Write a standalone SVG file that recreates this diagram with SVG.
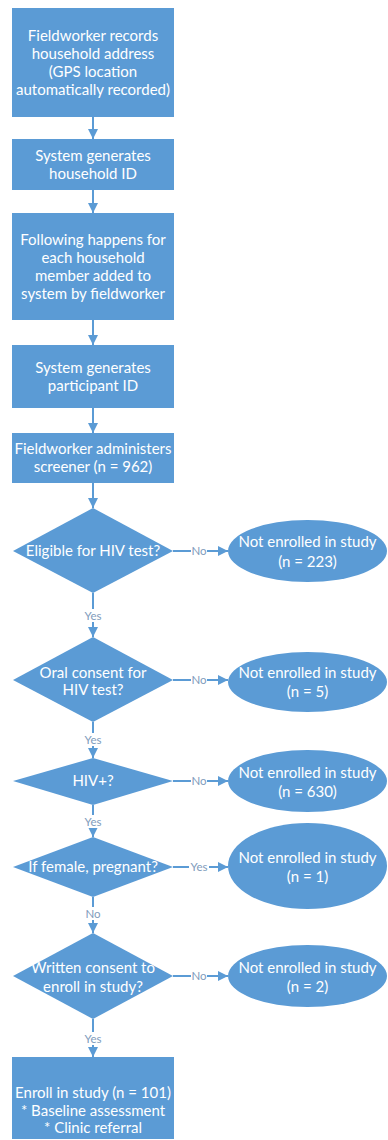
<svg xmlns="http://www.w3.org/2000/svg" width="388" height="1140" viewBox="0 0 388 1140">
<style>
.n{fill:#5b9bd5}
.t{font-family:Lato,"Open Sans",sans-serif;font-size:15px;fill:#fff;text-anchor:middle}
.c{stroke:#5b9bd5;stroke-width:2;fill:none}
.l{font-family:Lato,"Open Sans",sans-serif;font-size:11.5px;fill:#7f9cbc;text-anchor:middle}
.lb{fill:#fff}
</style>
<defs>
<marker id="ah" viewBox="0 0 10 10" refX="10" refY="5" markerWidth="10" markerHeight="10" orient="auto" markerUnits="userSpaceOnUse">
<path d="M0,0 L10,5 L0,10 Z" fill="#5b9bd5"/>
</marker>
</defs>
<rect width="388" height="1140" fill="#fff"/>
<g id="connectors">
<line class="c" x1="93" y1="117" x2="93" y2="139" marker-end="url(#ah)"/>
<line class="c" x1="93" y1="190" x2="93" y2="213" marker-end="url(#ah)"/>
<line class="c" x1="93" y1="320" x2="93" y2="345" marker-end="url(#ah)"/>
<line class="c" x1="93" y1="408" x2="93" y2="433" marker-end="url(#ah)"/>
<line class="c" x1="93" y1="483" x2="93" y2="508" marker-end="url(#ah)"/>
<line class="c" x1="93" y1="593" x2="93" y2="637" marker-end="url(#ah)"/>
<line class="c" x1="93" y1="722" x2="93" y2="758" marker-end="url(#ah)"/>
<line class="c" x1="93" y1="805" x2="93" y2="837" marker-end="url(#ah)"/>
<line class="c" x1="93" y1="897" x2="93" y2="933" marker-end="url(#ah)"/>
<line class="c" x1="93" y1="1019" x2="93" y2="1057" marker-end="url(#ah)"/>
<line class="c" x1="173" y1="551" x2="228" y2="551" marker-end="url(#ah)"/>
<line class="c" x1="173" y1="680" x2="228" y2="680" marker-end="url(#ah)"/>
<line class="c" x1="173" y1="781" x2="228" y2="781" marker-end="url(#ah)"/>
<line class="c" x1="173" y1="867" x2="228" y2="867" marker-end="url(#ah)"/>
<line class="c" x1="173" y1="976" x2="228" y2="976" marker-end="url(#ah)"/>
<rect class="lb" x="85" y="609" width="17" height="13"/>
<text class="l" x="93" y="620">Yes</text>
<rect class="lb" x="85" y="733" width="17" height="13"/>
<text class="l" x="93" y="744">Yes</text>
<rect class="lb" x="85" y="815" width="17" height="13"/>
<text class="l" x="93" y="826">Yes</text>
<rect class="lb" x="85" y="907" width="17" height="13"/>
<text class="l" x="93" y="918">No</text>
<rect class="lb" x="85" y="1032" width="17" height="13"/>
<text class="l" x="93" y="1043">Yes</text>
<rect class="lb" x="191" y="545" width="16" height="12"/>
<text class="l" x="199" y="555">No</text>
<rect class="lb" x="191" y="674" width="16" height="12"/>
<text class="l" x="199" y="684">No</text>
<rect class="lb" x="191" y="775" width="16" height="12"/>
<text class="l" x="199" y="785">No</text>
<rect class="lb" x="189" y="861" width="20" height="12"/>
<text class="l" x="199" y="871">Yes</text>
<rect class="lb" x="191" y="970" width="16" height="12"/>
<text class="l" x="199" y="980">No</text>
</g>
<g id="box1">
<rect class="n" x="12" y="8" width="162" height="109"/>
<text class="t" x="93" y="41">Fieldworker records</text>
<text class="t" x="93" y="59">household address</text>
<text class="t" x="93" y="77">(GPS location</text>
<text class="t" x="93" y="95">automatically recorded)</text>
</g>
<g id="box2">
<rect class="n" x="12" y="139" width="162" height="51"/>
<text class="t" x="93" y="161">System generates</text>
<text class="t" x="93" y="179">household ID</text>
</g>
<g id="box3">
<rect class="n" x="12" y="213" width="162" height="107"/>
<text class="t" x="93" y="245">Following happens for</text>
<text class="t" x="93" y="263">each household</text>
<text class="t" x="93" y="281">member added to</text>
<text class="t" x="93" y="299">system by fieldworker</text>
</g>
<g id="box4">
<rect class="n" x="12" y="345" width="162" height="63"/>
<text class="t" x="93" y="373">System generates</text>
<text class="t" x="93" y="391">participant ID</text>
</g>
<g id="box5">
<rect class="n" x="12" y="433" width="162" height="50"/>
<text class="t" x="93" y="454">Fieldworker administers</text>
<text class="t" x="93" y="472">screener (n = 962)</text>
</g>
<g id="d1">
<polygon class="n" points="93,508 173,551 93,593 13,551"/>
<text class="t" x="93" y="556">Eligible for HIV test?</text>
</g>
<g id="e1">
<ellipse class="n" cx="307.5" cy="551" rx="79.5" ry="31"/>
<text class="t" x="307.5" y="547">Not enrolled in study</text>
<text class="t" x="307.5" y="567">(n = 223)</text>
</g>
<g id="d2">
<polygon class="n" points="93,637 173,680 93,722 13,680"/>
<text class="t" x="93" y="678">Oral consent for</text>
<text class="t" x="93" y="695">HIV test?</text>
</g>
<g id="e2">
<ellipse class="n" cx="307.5" cy="682" rx="79.5" ry="30"/>
<text class="t" x="307.5" y="678">Not enrolled in study</text>
<text class="t" x="307.5" y="697">(n = 5)</text>
</g>
<g id="d3">
<polygon class="n" points="93,758 173,781 93,805 13,781"/>
<text class="t" x="93" y="786">HIV+?</text>
</g>
<g id="e3">
<ellipse class="n" cx="307.5" cy="781" rx="79.5" ry="31"/>
<text class="t" x="307.5" y="778">Not enrolled in study</text>
<text class="t" x="307.5" y="797">(n = 630)</text>
</g>
<g id="d4">
<polygon class="n" points="93,837 173,867 93,897 13,867"/>
<text class="t" x="93" y="872">If female, pregnant?</text>
</g>
<g id="e4">
<ellipse class="n" cx="307.5" cy="866" rx="79.5" ry="43"/>
<text class="t" x="307.5" y="863">Not enrolled in study</text>
<text class="t" x="307.5" y="882">(n = 1)</text>
</g>
<g id="d5">
<polygon class="n" points="93,933 173,976 93,1019 13,976"/>
<text class="t" x="93" y="973">Written consent to</text>
<text class="t" x="93" y="992">enroll in study?</text>
</g>
<g id="e5">
<ellipse class="n" cx="307.5" cy="976" rx="79.5" ry="31"/>
<text class="t" x="307.5" y="973">Not enrolled in study</text>
<text class="t" x="307.5" y="992">(n = 2)</text>
</g>
<g id="box6">
<rect class="n" x="12" y="1057" width="162" height="82"/>
<text class="t" x="93" y="1098">Enroll in study (n = 101)</text>
<text class="t" x="93" y="1116">* Baseline assessment</text>
<text class="t" x="93" y="1133">* Clinic referral</text>
</g>
</svg>
